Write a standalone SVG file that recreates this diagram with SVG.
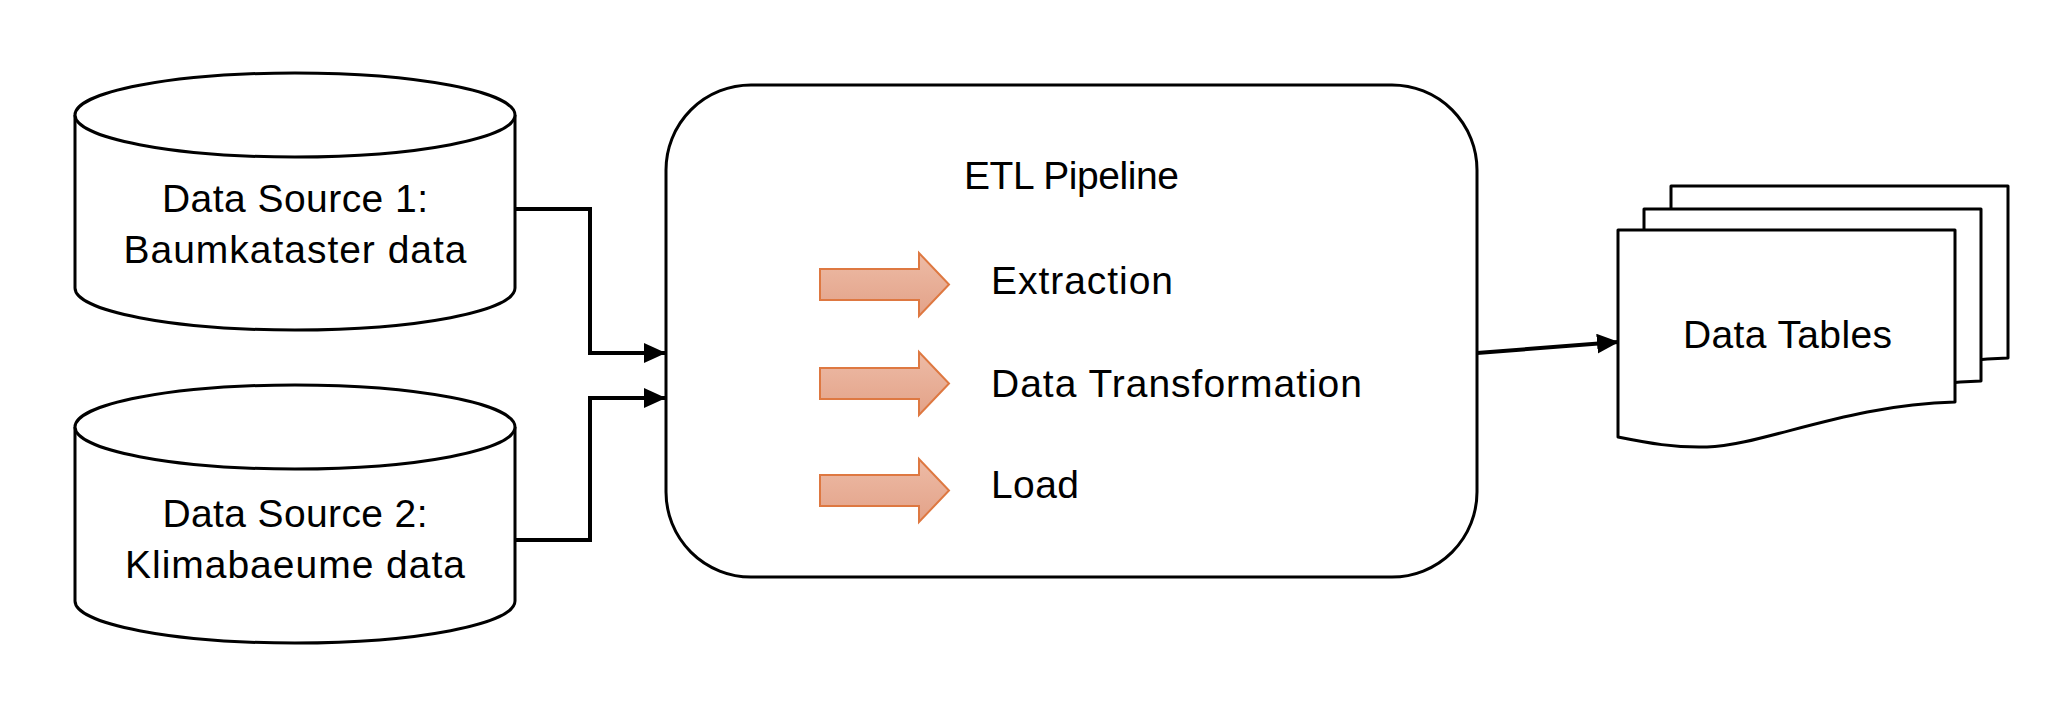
<svg xmlns="http://www.w3.org/2000/svg" width="2072" height="702" viewBox="0 0 2072 702">
<style>
.shape{fill:#fff;stroke:#000;stroke-width:3;stroke-linejoin:round}
.lbl{font-family:"Liberation Sans",Arial,sans-serif;font-size:39px;fill:#000}
.conn{fill:none;stroke:#000;stroke-width:4;stroke-linejoin:miter}
.oarrow{fill:url(#og);stroke:#DE7841;stroke-width:2;stroke-linejoin:miter}
</style>
<defs>
<linearGradient id="og" x1="0" y1="0" x2="0" y2="1">
<stop offset="0" stop-color="#EDBBA6"/>
<stop offset="1" stop-color="#E3A288"/>
</linearGradient>
<marker id="ah" markerWidth="22" markerHeight="20" refX="21" refY="10" orient="auto" markerUnits="userSpaceOnUse">
<path d="M0,0 L22,10 L0,20 Z" fill="#000"/>
</marker>
<path id="doc" d="M1618,230 H1955 V402 C1850,404 1760,446 1707,447 C1675,448 1648,443 1618,437 Z"/>
</defs>
<rect width="2072" height="702" fill="#fff"/>

<g id="connectors">
<polyline class="conn" points="515,209 590,209 590,353 665,353" marker-end="url(#ah)"/>
<polyline class="conn" points="515,540 590,540 590,398 665,398" marker-end="url(#ah)"/>
<line class="conn" x1="1477" y1="353" x2="1618" y2="342" marker-end="url(#ah)"/>
</g>

<g id="source1">
<path class="shape" d="M75,115 A220,42 0 0,1 515,115 L515,288 A220,42 0 0,1 75,288 Z"/>
<path class="shape" fill="none" d="M75,115 A220,42 0 0,0 515,115"/>
<text class="lbl" x="295" y="212" text-anchor="middle" textLength="266">Data Source 1:</text>
<text class="lbl" x="295" y="263" text-anchor="middle" textLength="343">Baumkataster data</text>
</g>

<g id="source2">
<path class="shape" d="M75,427 A220,42 0 0,1 515,427 L515,601 A220,42 0 0,1 75,601 Z"/>
<path class="shape" fill="none" d="M75,427 A220,42 0 0,0 515,427"/>
<text class="lbl" x="295" y="527" text-anchor="middle" textLength="265">Data Source 2:</text>
<text class="lbl" x="295" y="578" text-anchor="middle" textLength="340">Klimabaeume data</text>
</g>

<g id="etl">
<rect class="shape" x="666" y="85" width="811" height="492" rx="85" ry="85"/>
<text class="lbl" x="964" y="189" textLength="215">ETL Pipeline</text>
<path class="oarrow" d="M820,269 L919,269 L919,253 L949,284.5 L919,316 L919,300 L820,300 Z"/>
<text class="lbl" x="991" y="294" textLength="182">Extraction</text>
<path class="oarrow" transform="translate(0,99)" d="M820,269 L919,269 L919,253 L949,284.5 L919,316 L919,300 L820,300 Z"/>
<text class="lbl" x="991" y="397" textLength="371">Data Transformation</text>
<path class="oarrow" transform="translate(0,206)" d="M820,269 L919,269 L919,253 L949,284.5 L919,316 L919,300 L820,300 Z"/>
<text class="lbl" x="991" y="498" textLength="88">Load</text>
</g>

<g id="datatables">
<use href="#doc" class="shape" transform="translate(53,-44)"/>
<use href="#doc" class="shape" transform="translate(26,-21)"/>
<use href="#doc" class="shape"/>
<text class="lbl" x="1683" y="348" textLength="209">Data Tables</text>
</g>
</svg>
